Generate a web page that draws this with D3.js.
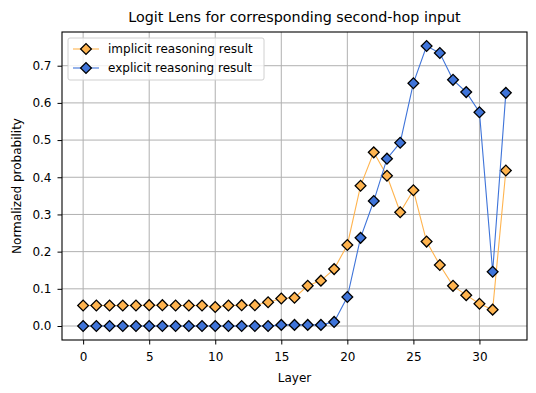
<!DOCTYPE html>
<html>
<head>
<meta charset="utf-8">
<script src="https://cdn.jsdelivr.net/npm/d3@7"></script>
<style>
  body { margin: 0; background: #fff; }
  svg { font-family: "DejaVu Sans", sans-serif; }
  .tick text { font-size: 12px; fill: #000; }
</style>
</head>
<body>
<div id="chart"></div>
<script>
// Layer indices
const layers = d3.range(0, 33);

// implicit reasoning result (orange)
const implicitVals = [
  0.055, 0.055, 0.055, 0.055, 0.055, 0.056, 0.056, 0.055, 0.055, 0.055,
  0.051, 0.055, 0.056, 0.056, 0.064, 0.074, 0.076, 0.108, 0.122, 0.153,
  0.218, 0.377, 0.467, 0.404, 0.306, 0.365, 0.227, 0.164, 0.108, 0.083,
  0.060, 0.044, 0.418
];

// explicit reasoning result (blue)
const explicitVals = [
  0.000, 0.000, 0.000, 0.000, 0.000, 0.000, 0.000, 0.000, 0.000, 0.000,
  0.000, 0.000, 0.000, 0.000, 0.000, 0.003, 0.003, 0.003, 0.003, 0.011,
  0.078, 0.237, 0.336, 0.450, 0.493, 0.653, 0.753, 0.734, 0.662, 0.629,
  0.575, 0.146, 0.627
];

const xTicks = [0, 5, 10, 15, 20, 25, 30];
const yTicks = [0.0, 0.1, 0.2, 0.3, 0.4, 0.5, 0.6, 0.7];

const series = [
  { name: "implicit reasoning result", values: implicitVals, line: "#ffb44f", fill: "#ffb44f" },
  { name: "explicit reasoning result", values: explicitVals, line: "#3f74d9", fill: "#3f74d9" }
];

const config = {
  width: 536,
  height: 393,
  margin: { top: 32, right: 9, bottom: 53, left: 62 }
};

const innerW = config.width - config.margin.left - config.margin.right;
const innerH = config.height - config.margin.top - config.margin.bottom;

const svg = d3.select("#chart")
  .append("svg")
  .attr("width", config.width)
  .attr("height", config.height);

const g = svg.append("g")
  .attr("transform", `translate(${config.margin.left},${config.margin.top})`);

// matplotlib-like 5% padding
const xScale = d3.scaleLinear().domain([-1.6, 33.6]).range([0, innerW]);
const yMax = d3.max(explicitVals.concat(implicitVals));
const yScale = d3.scaleLinear().domain([-0.05 * yMax, yMax * 1.05]).range([innerH, 0]);

// grid
g.append("g")
  .selectAll("line")
  .data(xTicks)
  .join("line")
  .attr("x1", d => xScale(d)).attr("x2", d => xScale(d))
  .attr("y1", 0).attr("y2", innerH)
  .attr("stroke", "#b0b0b0").attr("stroke-width", 1);

g.append("g")
  .selectAll("line")
  .data(yTicks)
  .join("line")
  .attr("y1", d => yScale(d)).attr("y2", d => yScale(d))
  .attr("x1", 0).attr("x2", innerW)
  .attr("stroke", "#b0b0b0").attr("stroke-width", 1);

// axes
const xAxis = g.append("g")
  .attr("transform", `translate(0,${innerH})`)
  .call(d3.axisBottom(xScale).tickValues(xTicks).tickFormat(d3.format("d")).tickSize(4.5).tickPadding(7.5));

const yAxis = g.append("g")
  .call(d3.axisLeft(yScale).tickValues(yTicks).tickFormat(d3.format(".1f")).tickSize(4.5).tickPadding(6));

[xAxis, yAxis].forEach(a => {
  a.select(".domain").remove();
  a.selectAll(".tick line").attr("stroke", "#000").attr("stroke-width", 1);
  a.selectAll(".tick text").attr("font-family", "DejaVu Sans");
});

// frame
g.append("rect")
  .attr("width", innerW).attr("height", innerH)
  .attr("fill", "none").attr("stroke", "#000").attr("stroke-width", 1.1);

// lines and markers
const line = d3.line()
  .x((d, i) => xScale(layers[i]))
  .y(d => yScale(d));

const diamond = d3.symbol().type(d3.symbolSquare).size(58);

series.forEach(s => {
  g.append("path")
    .datum(s.values)
    .attr("fill", "none")
    .attr("stroke", s.line)
    .attr("stroke-width", 1.1)
    .attr("d", line);

  g.append("g")
    .selectAll("path")
    .data(s.values)
    .join("path")
    .attr("d", diamond)
    .attr("transform", (d, i) => `translate(${xScale(layers[i])},${yScale(d)}) rotate(45)`)
    .attr("fill", s.fill)
    .attr("stroke", "#000")
    .attr("stroke-width", 1.3);
});

// legend
const legend = g.append("g").attr("transform", "translate(6,6)");
legend.append("rect")
  .attr("width", 196).attr("height", 42)
  .attr("rx", 2)
  .attr("fill", "#fff").attr("fill-opacity", 0.8)
  .attr("stroke", "#d0d0d0").attr("stroke-width", 1);

series.forEach((s, i) => {
  const row = legend.append("g").attr("transform", `translate(0,${11 + i * 19})`);
  row.append("line")
    .attr("x1", 5).attr("x2", 31)
    .attr("stroke", s.line).attr("stroke-width", 1.1);
  row.append("path")
    .attr("d", diamond)
    .attr("transform", "translate(18,0) rotate(45)")
    .attr("fill", s.fill).attr("stroke", "#000").attr("stroke-width", 1.3);
  row.append("text")
    .attr("x", 40).attr("y", 0).attr("dy", "0.35em")
    .attr("font-size", 12)
    .text(s.name);
});

// title and axis labels
svg.append("text")
  .attr("x", config.margin.left + innerW / 2)
  .attr("y", 22)
  .attr("text-anchor", "middle")
  .attr("font-size", 14.3)
  .text("Logit Lens for corresponding second-hop input");

svg.append("text")
  .attr("x", config.margin.left + innerW / 2)
  .attr("y", 382)
  .attr("text-anchor", "middle")
  .attr("font-size", 12)
  .text("Layer");

svg.append("text")
  .attr("transform", `translate(21,${config.margin.top + innerH / 2}) rotate(-90)`)
  .attr("text-anchor", "middle")
  .attr("font-size", 12)
  .text("Normalized probability");
</script>
</body>
</html>
